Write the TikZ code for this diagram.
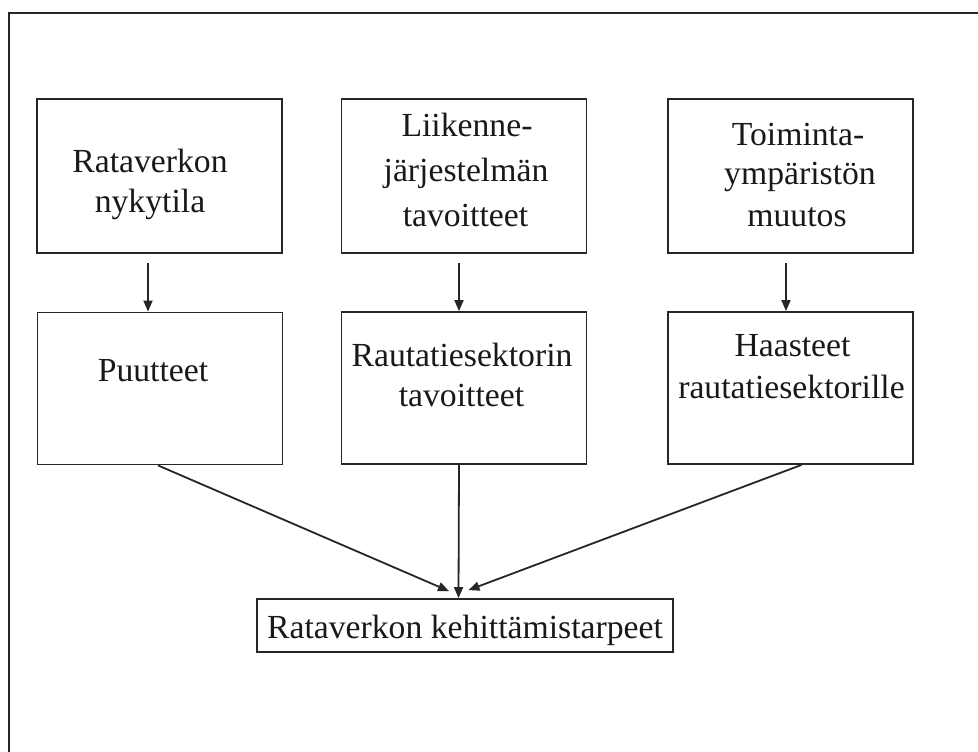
\documentclass[tikz,border=0pt]{standalone}
\usepackage{fontspec}
\setmainfont{Liberation Serif}
\usetikzlibrary{arrows.meta}
\begin{document}
\begin{tikzpicture}[x=1pt,y=-1pt,
  box/.style={draw=black!85, line width=1.8pt, rectangle, inner sep=0pt, minimum width=245pt, minimum height=154pt},
  lowbox/.style={box, minimum height=152pt},
  txt/.style={anchor=base, inner sep=0pt, font=\fontsize{33.7}{41}\selectfont, text=black!90},
  arr/.style={draw=black!85, line width=1.8pt, -{Triangle[length=11pt,width=9pt]}},
  frame/.style={draw=black!85, line width=2pt}
]
\useasboundingbox (0,0) rectangle (978,752);
\coordinate (fl) at (8.7,752);
\coordinate (fc) at (8.7,13.3);
\coordinate (fr) at (978,13.3);
\draw[frame] (fl) -- (fc) -- (fr);

\node[box] (b1) at (159.5,176) {};
\node[box] (b2) at (464,176) {};
\node[box] (b3) at (790.5,176) {};
\node[lowbox] (b4) at (160,388.5) {};
\node[lowbox] (b5) at (464,388) {};
\node[lowbox] (b6) at (790.5,388) {};
\node[draw=black!85, line width=1.8pt, rectangle, inner sep=0pt, minimum width=416pt, minimum height=53pt] (bt) at (465,625.5) {};

\node[txt] (t1a) at (150,172) {Rataverkon};
\node[txt] (t1b) at (150,212) {nykytila};
\node[txt] (t2a) at (467,136.7) {Liikenne-};
\node[txt] (t2b) at (466,181.7) {järjestelmän};
\node[txt] (t2c) at (465.5,226.7) {tavoitteet};
\node[txt] (t3a) at (798,145) {Toiminta-};
\node[txt] (t3b) at (800,184) {ympäristön};
\node[txt] (t3c) at (797,226.7) {muutos};
\node[txt] (t4a) at (153,381.7) {Puutteet};
\node[txt] (t5a) at (462,366.7) {Rautatiesektorin};
\node[txt] (t5b) at (461.5,406.7) {tavoitteet};
\node[txt] (t6a) at (792.5,356.7) {Haasteet};
\node[txt] (t6b) at (791.5,398) {rautatiesektorille};
\node[txt] (tt) at (465,638) {Rataverkon kehittämistarpeet};

\draw[arr] ([xshift=-11.5pt,yshift=-9pt]b1.south) -- ([xshift=-12pt]b4.north);
\draw[arr] ([xshift=-5pt,yshift=-9pt]b2.south) -- ([xshift=-5pt]b5.north);
\draw[arr] ([xshift=-4.5pt,yshift=-9pt]b3.south) -- ([xshift=-4.5pt]b6.north);

\draw[arr] ([xshift=-2pt]b4.south) -- ([xshift=-16pt,yshift=7pt]bt.north);
\draw[arr] ([xshift=-5pt]b5.south) -- ([xshift=-6.5pt]bt.north);
\draw[arr] ([xshift=11pt]b6.south) -- ([xshift=3.5pt,yshift=8pt]bt.north);
\end{tikzpicture}
\end{document}
